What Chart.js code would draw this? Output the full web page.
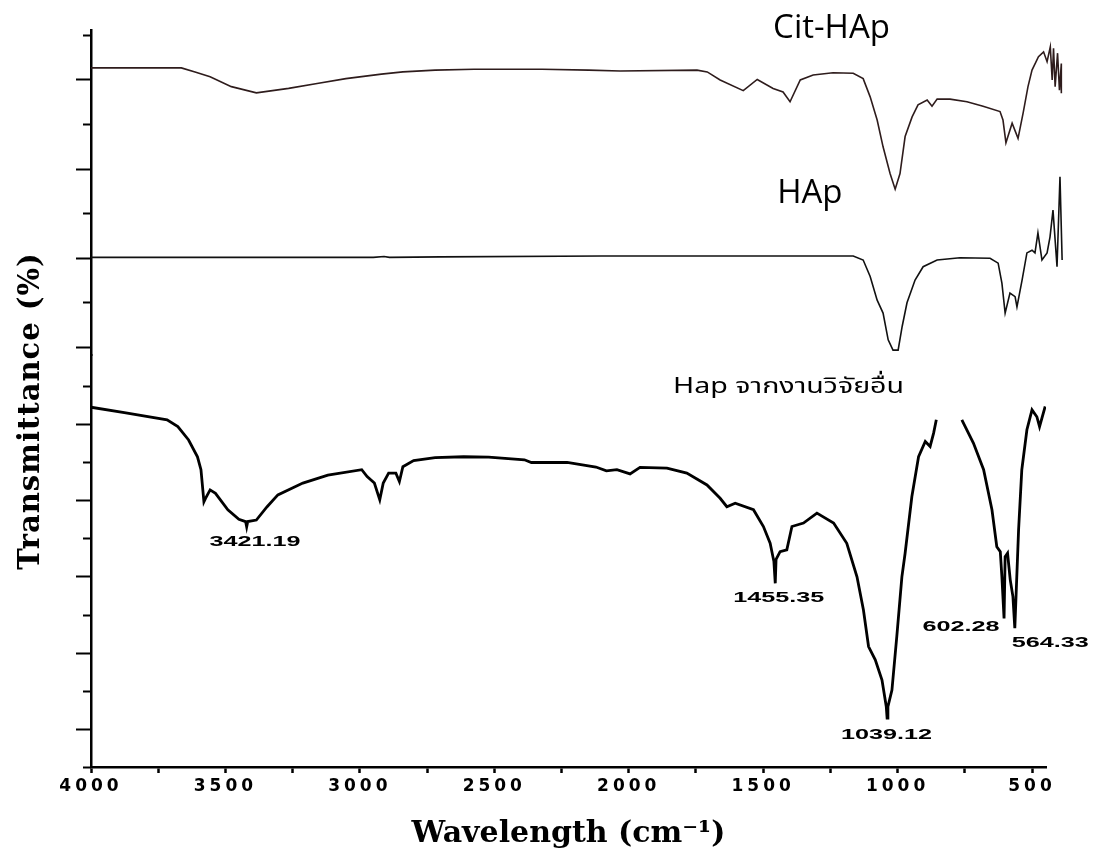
<!DOCTYPE html>
<html>
<head>
<meta charset="utf-8">
<script src="https://cdn.jsdelivr.net/npm/chart.js@4.4.1/dist/chart.umd.min.js"></script>
<style>
html,body{margin:0;padding:0;background:#fff;}
#wrap{width:1094px;height:859px;}
</style>
</head>
<body>
<div id="wrap"><canvas id="c" width="1094" height="859"></canvas></div>
<script>
// ---- Cit-HAp spectrum (top panel) ----
const citWn = [4000,3664,3613,3557,3478,3385,3265,3159,3052,2920,2840,2720,2575,2322,2149,2032,1746,1708,1660,1574,1522,1463,1426,1400,1362,1314,1240,1165,1128,1102,1076,1054,1028,1009,991,972,946,924,890,872,853,805,742,682,619,608,597,574,552,533,515,500,476,457,444,432,425,420,414,405,398,391,391];
const citT  = [62.6,62.6,61.7,60.6,58.4,57.0,58.0,59.1,60.2,61.2,61.7,62.1,62.3,62.3,62.1,61.9,62.1,61.7,59.9,57.5,60.0,58.0,57.2,55.0,59.9,61.0,61.5,61.4,60.2,56.1,50.9,44.9,38.9,35.4,38.9,47.2,51.6,54.3,55.4,54.0,55.6,55.6,55.0,54.0,52.8,50.9,45.8,50.2,46.8,52.5,58.4,62.1,65.1,66.2,64.0,67.3,59.9,67.0,58.4,65.9,57.6,63.6,56.9];

// ---- HAp spectrum (top panel) ----
const hapWn = [4000,2950,2910,2890,2700,2100,1165,1128,1102,1076,1054,1035,1017,998,983,965,935,905,853,768,656,626,612,600,582,563,556,537,519,500,489,478,463,444,433,422,407,396,388];
const hapT  = [20.1,20.1,20.3,20.1,20.2,20.4,20.4,19.5,15.8,10.5,7.6,1.6,-0.7,-0.7,4.6,9.9,15.0,18.0,19.5,20.0,19.9,18.8,14.3,7.6,12.1,11.3,9.0,15.0,21.1,21.7,21.1,25.6,19.5,21.1,24.7,30.7,18.0,38.2,19.5];

// ---- Hap from other research (bottom panel) ----
const refWn = [4000,3876,3717,3677,3637,3604,3591,3580,3574,3557,3537,3491,3450,3425,3421,3417,3385,3345,3305,3212,3119,2993,2973,2946,2926,2913,2893,2866,2853,2840,2800,2720,2614,2521,2388,2362,2229,2122,2083,2044,1995,1958,1858,1784,1709,1660,1635,1604,1536,1499,1474,1460,1455,1452,1437,1412,1393,1350,1300,1238,1189,1151,1127,1108,1083,1058,1042,1039,1036,1021,1003,984,972,947,922,897,879,866,856,810,761,718,680,649,631,618,612,604,600,591,581,571,564,550,538,519,500,482,472,451];
const refT  = [94.4,93.0,91.1,89.3,85.8,81.4,78.0,69.6,70.5,72.7,71.8,67.5,65.0,64.4,63.0,64.4,64.8,68.3,71.4,74.5,76.6,78.0,76.2,74.5,70.1,74.5,77.1,77.1,74.9,78.8,80.4,81.2,81.4,81.3,80.6,79.9,79.9,78.7,77.7,78.0,76.9,78.6,78.4,77.1,74.0,70.5,68.3,69.2,67.5,63.1,58.7,53.9,48.2,54.5,56.5,57.0,63.1,64.0,66.6,64.0,58.7,49.9,41.2,31.6,28.1,22.8,15.8,12.8,15.8,20.2,34.2,49.9,56.1,70.9,81.4,85.4,84.1,87.6,91.1,null,91.1,85.0,78.0,67.5,57.8,56.5,49.9,39.0,55.2,56.1,49.1,44.7,36.4,62.2,78.0,88.5,93.7,91.9,89.3,94.6];

// ---- ticks ----
const xTickPositions = [4000,3750,3500,3250,3000,2750,2500,2250,2000,1750,1500,1250,1000,750,500];
const xTickValues = [4000,3500,3000,2500,2000,1500,1000,500];
const xTickLabels = ['4000','3500','3000','2500','2000','1500','1000','500'];

// ---- text annotations ----
const seriesLabels = ['Cit-HAp','HAp','Hap จากงานวิจัยอื่น'];
const seriesLabelWn = [1463,1448,1835];
const seriesLabelY = [69.3,32.3,98.2];
const seriesLabelAxis = ['yTop','yTop','yBot'];

const peakLabels = ['3421.19','1455.35','1039.12','602.28','564.33'];
const peakLabelWn = [3390,1442,1041,764,432];
const peakLabelY = [59.1,44.4,8.4,36.6,32.5];

const toPts = (xs, ys) => xs.map((x, i) => ({x: x, y: ys[i]}));

const overlay = {
  id: 'overlay',
  afterDatasetsDraw(chart) { chart.ctx.letterSpacing = '4px'; },
  afterDraw(chart) {
    const ctx = chart.ctx;
    ctx.letterSpacing = '0px';
    ctx.save();
    ctx.letterSpacing = '0px';
    // y ticks with alternating length
    const specs = [['yTop', v => Math.round(v / 10) % 2 === 0], ['yBot', v => Math.abs(Math.round(v / 10)) % 2 === 1]];
    ctx.strokeStyle = '#000';
    ctx.lineWidth = 2;
    specs.forEach(([id, isLong]) => {
      const s = chart.scales[id];
      s.ticks.forEach(t => {
        const y = Math.round(s.getPixelForValue(t.value)) + 0.5;
        const len = isLong(t.value) ? 15 : 8;
        ctx.beginPath();
        ctx.moveTo(s.right, y);
        ctx.lineTo(s.right - len, y);
        ctx.stroke();
      });
    });
    // y title
    ctx.save();
    ctx.translate(31, 411);
    ctx.rotate(-Math.PI / 2);
    ctx.fillStyle = '#000';
    ctx.letterSpacing = '1px';
    ctx.font = 'bold 29px "DejaVu Serif", serif';
    ctx.textAlign = 'center';
    ctx.textBaseline = 'middle';
    ctx.fillText('Transmittance (%)', 0, 0);
    ctx.restore();
    // series labels
    const xs = chart.scales.x;
    seriesLabels.forEach((txt, i) => {
      const px = xs.getPixelForValue(seriesLabelWn[i]);
      const py = chart.scales[seriesLabelAxis[i]].getPixelForValue(seriesLabelY[i]);
      ctx.save();
      ctx.translate(px, py);
      ctx.fillStyle = '#000';
      ctx.textAlign = 'left';
      ctx.textBaseline = 'alphabetic';
      if (i < 2) {
        ctx.font = '33px "Open Sans", sans-serif';
      } else {
        ctx.scale(1.3, 1);
        ctx.font = '22px "Noto Sans Thai", "Noto Sans", Tahoma, sans-serif';
      }
      ctx.fillText(txt, 0, 0);
      ctx.restore();
    });
    // peak labels (wide bold digits)
    const yb = chart.scales.yBot;
    peakLabels.forEach((txt, i) => {
      const px = xs.getPixelForValue(peakLabelWn[i]);
      const py = yb.getPixelForValue(peakLabelY[i]);
      ctx.save();
      ctx.translate(px, py);
      ctx.scale(1.8, 1);
      ctx.fillStyle = '#000';
      ctx.font = 'bold 14px "Liberation Sans", Arial, sans-serif';
      ctx.textAlign = 'center';
      ctx.textBaseline = 'middle';
      ctx.fillText(txt, 0, 0);
      ctx.restore();
    });
    ctx.restore();
    ctx.letterSpacing = '0px';
  }
};

new Chart(document.getElementById('c'), {
  type: 'line',
  data: {
    datasets: [
      {label: 'Cit-HAp', data: toPts(citWn, citT), xAxisID: 'x', yAxisID: 'yTop', borderColor: '#2e1c1c', borderWidth: 1.6, pointRadius: 0, tension: 0, fill: false, clip: false},
      {label: 'HAp', data: toPts(hapWn, hapT), xAxisID: 'x', yAxisID: 'yTop', borderColor: '#111111', borderWidth: 1.6, pointRadius: 0, tension: 0, fill: false, clip: false},
      {label: 'Hap ref', data: toPts(refWn, refT), xAxisID: 'x', yAxisID: 'yBot', borderColor: '#000000', borderWidth: 2.8, pointRadius: 0, tension: 0, fill: false, spanGaps: false}
    ]
  },
  options: {
    responsive: false,
    animation: false,
    events: [],
    layout: {padding: {left: 0, right: 48, top: 30, bottom: 0}},
    plugins: {legend: {display: false}, tooltip: {enabled: false}, title: {display: false}},
    scales: {
      x: {
        type: 'linear', reverse: true, min: 448, max: 4000,
        afterFit(s) { s.height = 92; },
        afterBuildTicks(s) { s.ticks = xTickPositions.map(v => ({value: v})); },
        border: {display: true, color: '#000', width: 2.5},
        grid: {display: true, drawOnChartArea: false, drawTicks: true, tickLength: 6, tickColor: '#000', tickWidth: 2.5},
        ticks: {
          autoSkip: false, maxRotation: 0, minRotation: 0,
          padding: 3, z: 1, color: '#000',
          font: {family: '"DejaVu Sans", sans-serif', weight: 'bold', size: 17},
          callback: (v) => { const i = xTickValues.indexOf(v); return i >= 0 ? xTickLabels[i] : ''; }
        },
        title: {display: true, text: 'Wavelength (cm⁻¹)', color: '#000', font: {family: '"DejaVu Serif", serif', weight: 'bold', size: 30, lineHeight: 1.2}, padding: {top: 0, bottom: 7}}
      },
      yBot: {
        type: 'linear', position: 'left', stack: 'ys', stackWeight: 412, min: 0, max: 108.1,
        afterFit(s) { s.width = 91; },
        border: {display: true, color: '#000', width: 2.5},
        grid: {display: false},
        ticks: {display: false, stepSize: 10, includeBounds: false}
      },
      yTop: {
        type: 'linear', position: 'left', stack: 'ys', stackWeight: 325, min: -1.8, max: 71.1,
        afterFit(s) { s.width = 91; },
        border: {display: true, color: '#000', width: 2.5},
        grid: {display: false},
        ticks: {display: false, stepSize: 10, includeBounds: false}
      }
    }
  },
  plugins: [overlay]
});
</script>
</body>
</html>
